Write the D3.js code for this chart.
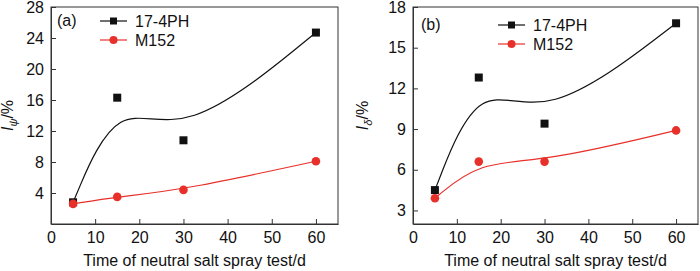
<!DOCTYPE html>
<html>
<head>
<meta charset="utf-8">
<script src="https://cdn.jsdelivr.net/npm/d3@7"></script>
<style>
  body { margin: 0; background: #fff; }
  svg { display: block; font-family: "Liberation Sans", Arial, sans-serif; }
  .tick text { font-size: 16px; fill: #111; }
  .lbl { font-size: 16px; fill: #111; }
</style>
</head>
<body>
<svg width="700" height="271"></svg>
<script>
const days = [5, 15, 30, 60];
const seriesNames = ["17-4PH", "M152"];
const colors = ["#111111", "#e8302a"];

// panel (a) I_psi
const psiSteel = [2.8, 16.3, 10.8, 24.7];
const psiM152 = [2.6, 3.5, 4.4, 8.1];
// panel (b) I_delta
const deltaSteel = [4.5, 12.8, 9.4, 16.8];
const deltaM152 = [3.9, 6.6, 6.6, 8.9];

const xTicks = [0, 10, 20, 30, 40, 50, 60];

const svg = d3.select("svg");

const panels = [
  { tag: "(a)", sub: "ψ", left: 51, right: 338, yDomain: [0, 28], yTicks: [4, 8, 12, 16, 20, 24, 28],
    series: [psiSteel, psiM152], legendX: 100, legendY: 21, tagX: 57, tagY: 26, titleX: 13 },
  { tag: "(b)", sub: "δ", left: 413, right: 698, yDomain: [2, 18], yTicks: [3, 6, 9, 12, 15, 18],
    series: [deltaSteel, deltaM152], legendX: 498, legendY: 25, tagX: 421, tagY: 30, titleX: 368 }
];

const plotTop = 7, plotBottom = 224;

panels.forEach(p => {
  const x = d3.scaleLinear().domain([0, 65]).range([p.left, p.right]);
  const y = d3.scaleLinear().domain(p.yDomain).range([plotBottom, plotTop]);
  const g = svg.append("g");

  // frame
  g.append("rect")
    .attr("x", p.left).attr("y", plotTop)
    .attr("width", p.right - p.left).attr("height", plotBottom - plotTop)
    .attr("fill", "none").attr("stroke", "#333").attr("stroke-width", 1);

  const xAxis = g.append("g").attr("transform", `translate(0,${plotBottom})`)
    .call(d3.axisBottom(x).tickValues(xTicks).tickSizeInner(-5).tickSizeOuter(0).tickPadding(8));
  const yAxis = g.append("g").attr("transform", `translate(${p.left},0)`)
    .call(d3.axisLeft(y).tickValues(p.yTicks).tickSizeInner(-5).tickSizeOuter(0).tickPadding(7));
  [xAxis, yAxis].forEach(a => {
    a.attr("font-size", null).attr("font-family", null);
    a.select(".domain").attr("stroke", "#333");
    a.selectAll(".tick line").attr("stroke", "#333");
  });

  // x title
  g.append("text").attr("class", "lbl")
    .attr("x", (p.left + p.right) / 2).attr("y", 266)
    .attr("text-anchor", "middle")
    .text("Time of neutral salt spray test/d");

  // y title
  const yt = g.append("text").attr("class", "lbl")
    .attr("transform", `translate(${p.titleX},${(plotTop + plotBottom) / 2}) rotate(-90)`)
    .attr("text-anchor", "middle");
  yt.append("tspan").attr("font-style", "italic").text("I");
  yt.append("tspan").attr("font-size", "11px").attr("dy", 4).attr("font-style", "italic").text(p.sub);
  yt.append("tspan").attr("dy", -4).text("/%");

  g.append("text").attr("class", "lbl").attr("x", p.tagX).attr("y", p.tagY).text(p.tag);

  const line = d3.line().x(d => x(d[0])).y(d => y(d[1])).curve(d3.curveBasis);

  p.series.forEach((vals, i) => {
    const pts = days.map((d, k) => [d, vals[k]]);
    g.append("path").attr("d", line(pts))
      .attr("fill", "none").attr("stroke", colors[i]).attr("stroke-width", 1.2);
  });
  // markers: steel first, M152 on top
  p.series.forEach((vals, i) => {
    const pts = days.map((d, k) => [d, vals[k]]);
    if (i === 0) {
      g.selectAll(null).data(pts).join("rect")
        .attr("x", d => x(d[0]) - 4).attr("y", d => y(d[1]) - 4)
        .attr("width", 8).attr("height", 8).attr("fill", colors[i]);
    } else {
      g.selectAll(null).data(pts).join("circle")
        .attr("cx", d => x(d[0])).attr("cy", d => y(d[1])).attr("r", 4.3)
        .attr("fill", colors[i]);
    }
  });

  // legend
  seriesNames.forEach((name, i) => {
    const ly = p.legendY + i * 19;
    g.append("line").attr("x1", p.legendX).attr("x2", p.legendX + 27)
      .attr("y1", ly).attr("y2", ly).attr("stroke", colors[i]).attr("stroke-width", 1.2);
    if (i === 0) {
      g.append("rect").attr("x", p.legendX + 13.5 - 3.5).attr("y", ly - 3.5)
        .attr("width", 7).attr("height", 7).attr("fill", colors[i]);
    } else {
      g.append("circle").attr("cx", p.legendX + 13.5).attr("cy", ly).attr("r", 4).attr("fill", colors[i]);
    }
    g.append("text").attr("class", "lbl").attr("x", p.legendX + 35).attr("y", ly + 6).text(name);
  });
});
</script>
</body>
</html>
